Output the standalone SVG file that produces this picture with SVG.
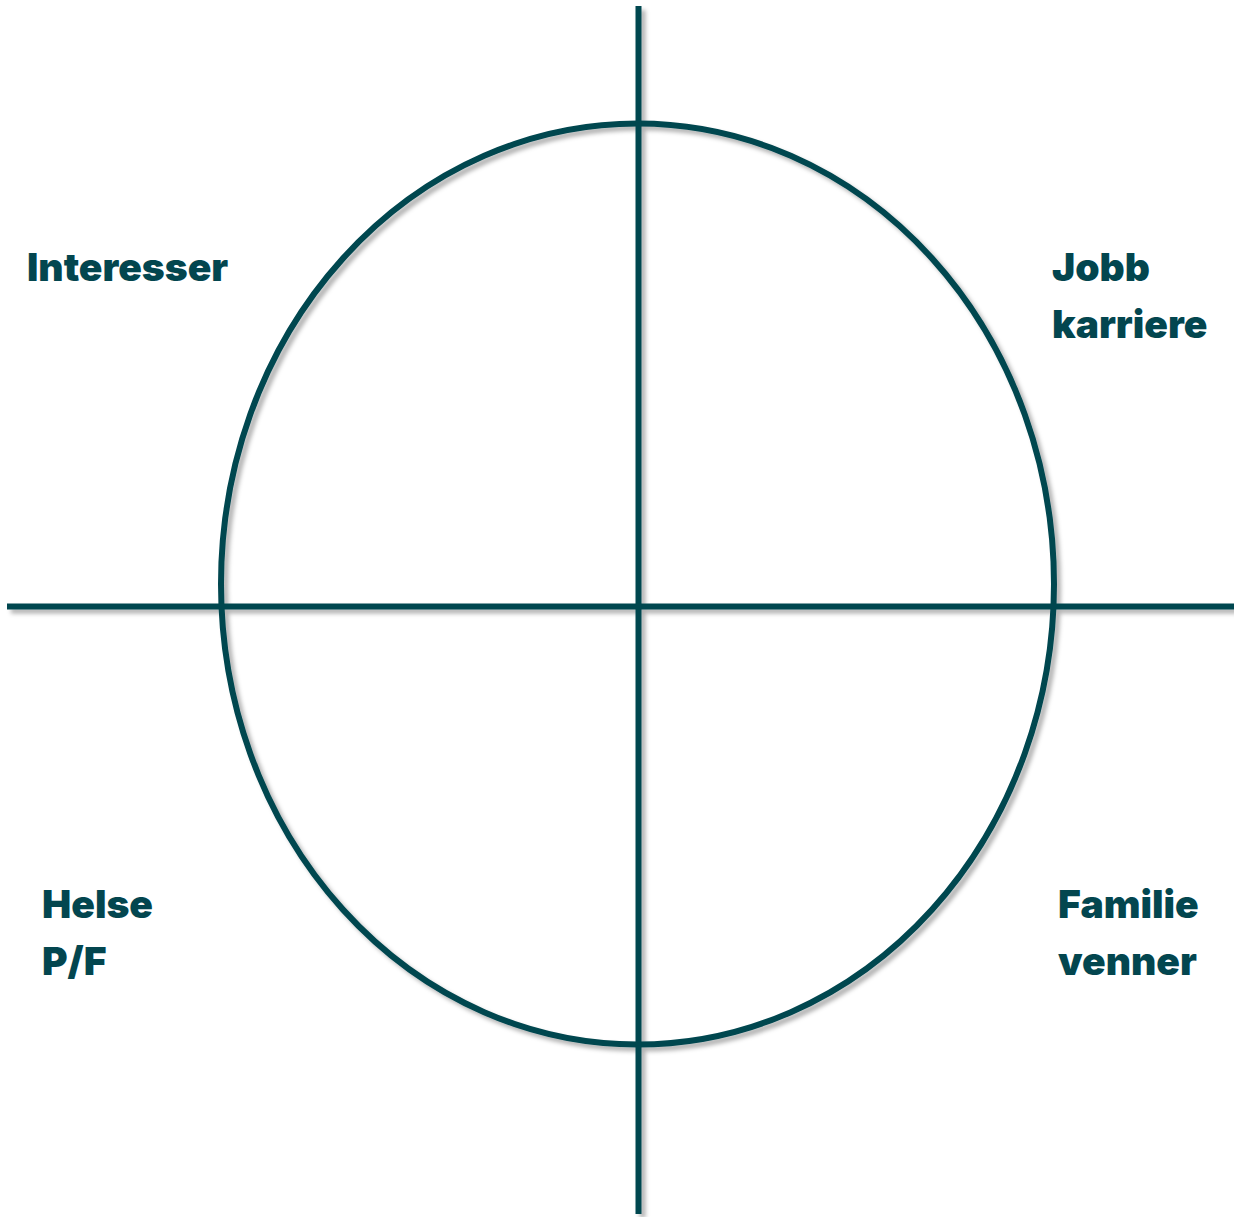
<svg xmlns="http://www.w3.org/2000/svg" width="1234" height="1217" viewBox="0 0 1234 1217">
<defs>
<filter id="sh" x="-5%" y="-5%" width="110%" height="110%">
<feDropShadow dx="4" dy="4" stdDeviation="2" flood-color="#000" flood-opacity="0.3"/>
</filter>
<style>
.ln{fill:none;stroke:#03464f;stroke-width:6}
.t{font-family:Inter,"Liberation Sans",sans-serif;font-weight:900;font-size:39px;fill:#03464f}
</style>
</defs>
<rect width="1234" height="1217" fill="#fff"/>
<g id="connectors" filter="url(#sh)">
<ellipse id="circle" class="ln" cx="637.5" cy="584" rx="416.5" ry="460.5"/>
<line class="ln" x1="638.5" y1="6" x2="638.5" y2="1214"/>
<line class="ln" x1="7" y1="606.5" x2="1234" y2="606.5"/>
</g>
<g id="interesser"><text class="t" x="27" y="281">Interesser</text></g>
<g id="jobb"><text class="t" x="1052" y="281">Jobb</text><text class="t" x="1052" y="338">karriere</text></g>
<g id="helse"><text class="t" x="42" y="918">Helse</text><text class="t" x="42" y="975">P/F</text></g>
<g id="familie"><text class="t" x="1058" y="918">Familie</text><text class="t" x="1058" y="975">venner</text></g>
</svg>
